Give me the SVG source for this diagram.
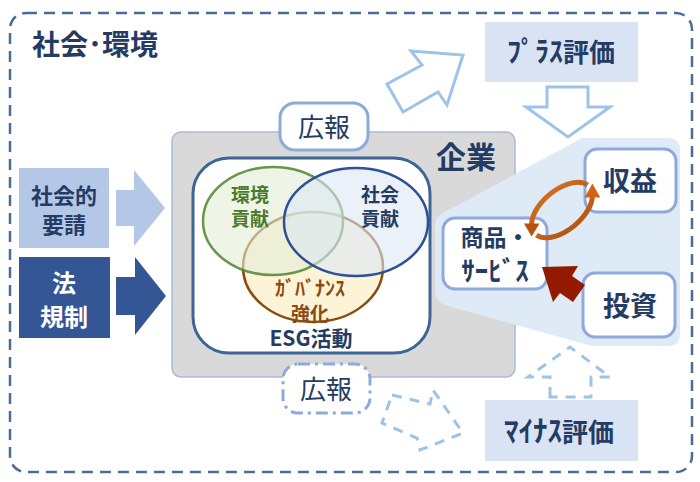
<svg xmlns="http://www.w3.org/2000/svg" width="700" height="482" viewBox="0 0 700 482">
<defs>
<style>
text{font-family:"Noto Sans CJK JP","Noto Sans",sans-serif;text-anchor:middle;}
.b{font-weight:bold;}
.navy{fill:#243b63;}
.box{fill:#fff;stroke:#8eaadb;stroke-width:3;}
.hollow{fill:#fff;stroke:#9dc3e6;stroke-width:3;}
.dash{fill:#fff;stroke:#9dc3e6;stroke-width:3;stroke-dasharray:10 8;}
.eval{fill:#dae3f3;}
.cyc{fill:none;stroke:url(#og);stroke-width:5;stroke-linecap:butt;}
</style>
<linearGradient id="og" x1="0" y1="0" x2="1" y2="1">
<stop offset="0" stop-color="#e07b2a"/>
<stop offset="1" stop-color="#a5480c"/>
</linearGradient>
</defs>
<rect x="0" y="0" width="700" height="482" fill="#fff"/>

<g id="environment">
<rect x="10" y="13" width="682" height="459" rx="16" fill="none" stroke="#4a6d96" stroke-width="2.5" stroke-dasharray="11 7"/>
<text x="95" y="55" font-size="28" class="b navy">社会･環境</text>
</g>

<g id="company">
<rect x="172" y="132" width="343" height="245" rx="9" fill="#d9d9d9" stroke="#a9bcd6" stroke-width="1.5"/>
<text x="466" y="168" font-size="30" class="b navy">企業</text>
</g>

<g id="business-area">
<path d="M582 138 L668 138 Q680 138 680 150 L680 334 Q680 346 668 346 L592 346 L448 306 Q435 302 435 290 L435 226 Q435 216 445 212 Z" fill="#deebf7"/>
</g>

<g id="esg">
<rect x="193" y="158" width="237" height="195" rx="36" fill="#fff" stroke="#3d6694" stroke-width="3"/>
<ellipse cx="313" cy="267" rx="70" ry="55" fill="#fdf1d0" fill-opacity="0.85" stroke="#8b4a10" stroke-width="2.5"/>
<ellipse cx="273" cy="221" rx="70" ry="54" fill="#e2eed6" fill-opacity="0.6" stroke="#5a8a3a" stroke-width="2.5" stroke-opacity="0.9"/>
<ellipse cx="356" cy="222" rx="72" ry="54" fill="#dce8f5" fill-opacity="0.6" stroke="#2f4f99" stroke-width="2.5"/>
<text x="250" y="202" font-size="19" class="b" fill="#4a7a2a">環境</text>
<text x="250" y="226" font-size="19" class="b" fill="#4a7a2a">貢献</text>
<text x="380" y="202" font-size="19" class="b navy">社会</text>
<text x="380" y="226" font-size="19" class="b navy">貢献</text>
<text x="310" y="296" font-size="20" class="b" fill="#8b4a10">ｶﾞﾊﾞﾅﾝｽ</text>
<text x="310" y="321" font-size="19" class="b" fill="#8b4a10">強化</text>
<text x="311" y="346" font-size="21" class="b navy">ESG活動</text>
</g>

<g id="social-request">
<rect x="19" y="168" width="90" height="80" fill="#b4c7e7"/>
<text x="64" y="204" font-size="22" class="b navy">社会的</text>
<text x="64" y="233" font-size="22" class="b navy">要請</text>
</g>

<g id="regulation">
<rect x="19" y="257" width="91" height="81" fill="#355694"/>
<text x="64" y="292" font-size="24" class="b" fill="#fff">法</text>
<text x="64" y="326" font-size="24" class="b" fill="#fff">規制</text>
</g>

<g id="pr-top">
<rect class="box" x="280" y="103" width="88" height="47" rx="15"/>
<text x="324" y="137" font-size="26" class="navy">広報</text>
</g>

<g id="pr-bottom">
<rect x="283" y="364" width="87" height="49" rx="15" fill="#fff" stroke="#8eaadb" stroke-width="3" stroke-dasharray="12 5 3 5"/>
<text x="326" y="399" font-size="26" class="navy">広報</text>
</g>

<g id="plus-eval">
<rect class="eval" x="485" y="22" width="153" height="60"/>
<text x="561" y="62" font-size="26" class="b navy"><tspan font-size="28">ﾌﾟﾗｽ</tspan>評価</text>
</g>

<g id="minus-eval">
<rect class="eval" x="485" y="400" width="153" height="61"/>
<text x="559" y="442" font-size="26" class="b navy"><tspan font-size="29">ﾏｲﾅｽ</tspan>評価</text>
</g>

<g id="revenue">
<rect class="box" x="585" y="149" width="91" height="63" rx="12"/>
<text x="630" y="191" font-size="27" class="b navy">収益</text>
</g>

<g id="investment">
<rect class="box" x="583" y="273" width="92" height="64" rx="12"/>
<text x="630" y="316" font-size="27" class="b navy">投資</text>
</g>

<g id="products">
<rect class="box" x="443" y="218" width="104" height="71" rx="12"/>
<text x="495" y="246" font-size="23" class="b navy">商品・</text>
<text x="495" y="281" font-size="27" class="b navy">ｻｰﾋﾞｽ</text>
</g>

<g id="connectors">
<polygon points="116,190 134,190 134,170 165,208 134,246 134,226 116,226" fill="#b4c7e7"/>
<polygon points="116,277 135,277 135,257 166,296 135,335 135,315 116,315" fill="#355694"/>
<polygon class="hollow" points="387,84 422,65 411,51 463,55 447,105 438,92 403,112"/>
<polygon class="hollow" points="547,87 588,87 588,107 610,107 568,137 526,107 547,107"/>
<polygon class="dash" points="550,397 550,377 528,377 570,347 610,377 591,377 591,397"/>
<polygon class="dash" points="392,395 430,404 433,390 463,433 420,450 417,438 382,423"/>
<path class="cyc" d="M587.5 185 A36 20 -40 0 0 531.6 224.5"/>
<polygon points="524,223.5 539.5,223.5 531.6,236.5" fill="#b8520f"/>
<path class="cyc" d="M536.5 235 A36 20 -40 0 0 592.4 196.5"/>
<polygon points="584.5,197.5 600.3,197.5 592.4,183.5" fill="#d0651a"/>
<polygon points="542,267 578,266 572,276 585,285 573,302 560,293 553,302" fill="#931a00"/>
</g>
</svg>
